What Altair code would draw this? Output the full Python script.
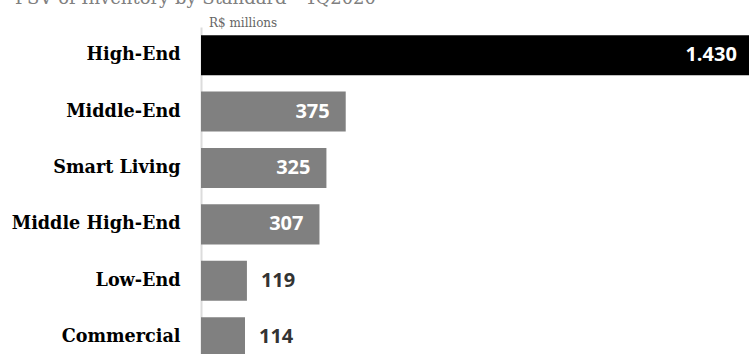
import altair as alt
import pandas as pd

# PSV of inventory by standard, R$ millions
categories = ["High-End", "Middle-End", "Smart Living", "Middle High-End", "Low-End", "Commercial"]
values = [1430, 375, 325, 307, 119, 114]
labels = ["1.430", "375", "325", "307", "119", "114"]

title_text = "PSV of Inventory by Standard - 4Q2020"
unit_text = "R$ millions"

df = pd.DataFrame({"category": categories, "value": values, "label": labels})

LABEL_FONT = "DejaVu Serif"
VALUE_FONT = "Open Sans"

y_enc = alt.Y(
    "category:N",
    sort=categories,
    title=None,
    scale=alt.Scale(paddingInner=0.29, paddingOuter=0.145),
    axis=alt.Axis(
        domain=True,
        domainColor="#dcdcdc",
        domainWidth=2,
        ticks=False,
        grid=False,
        labelFont=LABEL_FONT,
        labelFontWeight="bold",
        labelFontSize=17.6,
        labelColor="#000000",
        labelPadding=21,
        labelLimit=300,
    ),
)
x_enc = alt.X("value:Q", title=None, axis=None, scale=alt.Scale(domain=[0, 1420], nice=False, zero=True))

base = alt.Chart(df)

bars = base.mark_bar(cornerRadius=0).encode(
    y=y_enc,
    x=x_enc,
    color=alt.condition(alt.datum.category == "High-End", alt.value("#000000"), alt.value("#808080")),
)

inside = base.transform_filter(alt.datum.value > 200).mark_text(
    align="right", baseline="middle", dx=-16, font=VALUE_FONT, fontWeight="bold", fontSize=20, color="#ffffff"
).encode(y=alt.Y("category:N", sort=categories), x="value:Q", text="label:N")

outside = base.transform_filter(alt.datum.value <= 200).mark_text(
    align="left", baseline="middle", dx=14, font=VALUE_FONT, fontWeight="bold", fontSize=20, color="#333333"
).encode(y=alt.Y("category:N", sort=categories), x="value:Q", text="label:N")

title = alt.Chart(pd.DataFrame({"t": [title_text]})).mark_text(
    align="left", baseline="alphabetic", font="DejaVu Serif", fontSize=18, color="#808080"
).encode(text="t:N", x=alt.value(-186), y=alt.value(-22.5))

unit = alt.Chart(pd.DataFrame({"t": [unit_text]})).mark_text(
    align="left", baseline="alphabetic", font=LABEL_FONT, fontSize=12, color="#666666"
).encode(text="t:N", x=alt.value(8), y=alt.value(0))

chart = (
    alt.layer(bars, inside, outside, title, unit)
    .properties(
        width=548,
        height=alt.Step(56.4),
        autosize=alt.AutoSizeParams(type="none"),
        padding={"left": 201, "top": 27, "right": 0, "bottom": 0},
        background="#ffffff",
    )
    .configure_view(stroke=None)
)

chart.save("out.html", embed_options={"renderer": "svg", "actions": False})
